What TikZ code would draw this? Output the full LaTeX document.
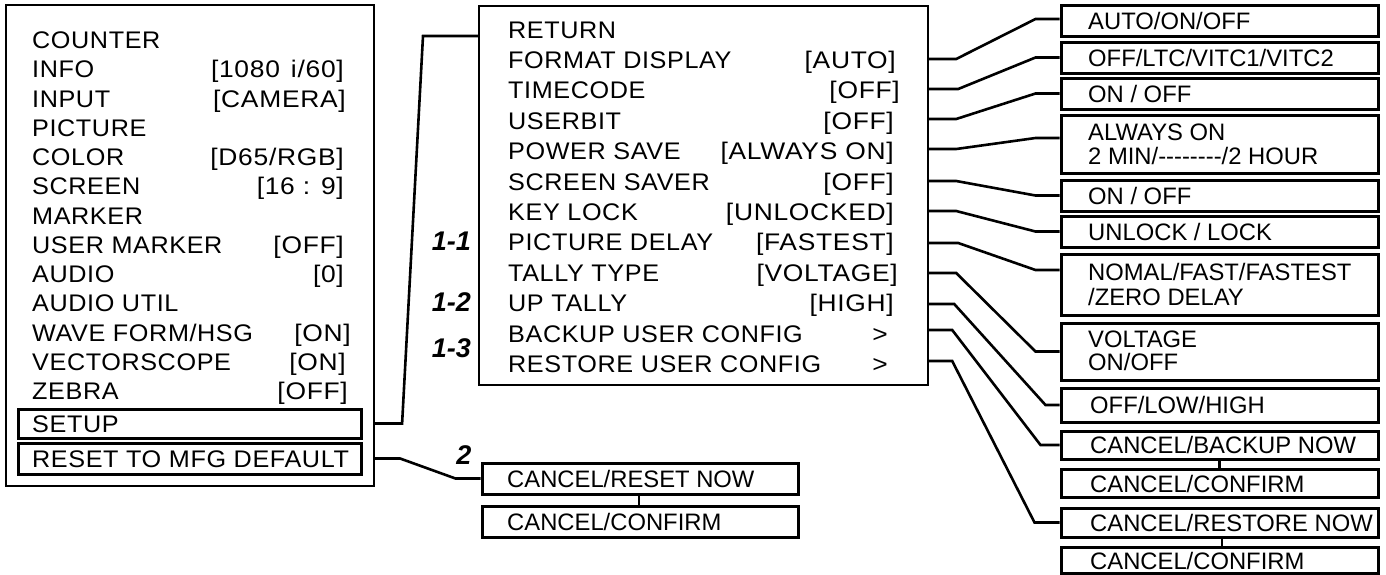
\documentclass[tikz,border=0pt]{standalone}
\usepackage{fontspec}
\setmainfont{Liberation Sans}
\newfontfamily\menufont{Liberation Sans}[FakeStretch=1.05, LetterSpace=2.5]
\newfontfamily\valfont{Liberation Sans}[FakeStretch=1.1, LetterSpace=3]
\tikzset{
  menu/.style={font=\menufont\fontsize{24}{28}\selectfont, inner sep=0pt, text height=17.2pt, text depth=0pt},
  mleft/.style={menu, anchor=west},
  mright/.style={menu, font=\valfont\fontsize{24}{28}\selectfont, anchor=east},
  opt/.style={font=\fontsize{23.8}{24}\selectfont, inner sep=0pt, text height=17pt, text depth=0pt, anchor=west},
  obox/.style={draw, line width=3pt, minimum width=317pt, inner sep=0pt},
  cbox/.style={draw, line width=3pt, minimum width=316pt, inner sep=0pt},
  ibox/.style={draw, line width=3pt, minimum width=343pt, inner sep=0pt},
  frame/.style={draw, line width=2.4pt, inner sep=0pt},
  lbl/.style={font=\bfseries\itshape\fontsize{27}{30}\selectfont, inner sep=0pt, text height=19.5pt, text depth=0pt},
  conn/.style={line width=2.6pt, line join=miter}
}
\begin{document}
\begin{tikzpicture}[x=1pt, y=-1pt]
\useasboundingbox (0,0) rectangle (1386,574);
\fill[white] (0,0) rectangle (1386,574);

% ---------- left menu ----------
\node[frame, line width=2.2pt, minimum width=368pt, minimum height=481pt] (lbox) at (190,245.5) {};
\node[mleft] (l0) at (32,40) {COUNTER};
\node[mleft] (l1) at (32,69.25) {INFO};
\node[mright] (lv1) at (344,69.25) {[1080\hspace{3pt} i/60]};
\node[mleft] (l2) at (32,98.5) {INPUT};
\node[mright] (lv2) at (346,98.5) {[CAMERA]};
\node[mleft] (l3) at (32,127.75) {PICTURE};
\node[mleft] (l4) at (32,157) {COLOR};
\node[mright] (lv4) at (344,157) {[D65/RGB]};
\node[mleft] (l5) at (32,186.25) {SCREEN};
\node[mright] (lv5) at (344,186.25) {[16 : 9]};
\node[mleft] (l6) at (32,215.5) {MARKER};
\node[mleft] (l7) at (32,244.75) {USER MARKER};
\node[mright] (lv7) at (344,244.75) {[OFF]};
\node[mleft] (l8) at (32,274) {AUDIO};
\node[mright] (lv8) at (344,274) {[0]};
\node[mleft] (l9) at (32,303.25) {AUDIO UTIL};
\node[mleft] (l10) at (32,332.5) {WAVE FORM/HSG};
\node[mright] (lv10) at (351,332.5) {[ON]};
\node[mleft] (l11) at (32,361.75) {VECTORSCOPE};
\node[mright] (lv11) at (346,361.75) {[ON]};
\node[mleft] (l12) at (32,391) {ZEBRA};
\node[mright] (lv12) at (348,391) {[OFF]};
\node[ibox, minimum height=29pt] (setup) at (189.5,423.5) {};
\node[mleft] (lsetup) at (32,424) {SETUP};
\node[ibox, minimum height=31pt] (reset) at (189.5,458.5) {};
\node[mleft] (lreset) at (32,458.5) {RESET TO MFG DEFAULT};

% ---------- middle menu ----------
\node[frame, minimum width=449pt, minimum height=379pt] (mbox) at (703.5,195.5) {};
\node[mleft] (m0) at (508,29.5) {RETURN};
\node[mleft] (m1) at (508,59.9) {FORMAT DISPLAY};
\node[mright] (mv1) at (896,59.9) {[AUTO]};
\node[mleft] (m2) at (508,90.3) {TIMECODE};
\node[mright] (mv2) at (900,90.3) {[OFF]};
\node[mleft] (m3) at (508,120.7) {USERBIT};
\node[mright] (mv3) at (894,120.7) {[OFF]};
\node[mleft] (m4) at (508,151.1) {POWER SAVE};
\node[mright] (mv4) at (894,151.1) {[ALWAYS ON]};
\node[mleft] (m5) at (508,181.5) {SCREEN SAVER};
\node[mright] (mv5) at (894,181.5) {[OFF]};
\node[mleft] (m6) at (508,211.9) {KEY LOCK};
\node[mright] (mv6) at (894,211.9) {[UNLOCKED]};
\node[mleft] (m7) at (508,242.3) {PICTURE DELAY};
\node[mright] (mv7) at (894,242.3) {[FASTEST]};
\node[mleft] (m8) at (508,272.7) {TALLY TYPE};
\node[mright] (mv8) at (898,272.7) {[VOLTAGE]};
\node[mleft] (m9) at (508,303.1) {UP TALLY};
\node[mright] (mv9) at (894,303.1) {[HIGH]};
\node[mleft] (m10) at (508,333.5) {BACKUP USER CONFIG};
\node[mright] (mv10) at (888,333.5) {>};
\node[mleft] (m11) at (508,363.9) {RESTORE USER CONFIG};
\node[mright] (mv11) at (888,363.9) {>};

% labels
\node[lbl, anchor=east] (n11) at (471,241) {1-1};
\node[lbl, anchor=east] (n12) at (471,302) {1-2};
\node[lbl, anchor=east] (n13) at (471,348) {1-3};
\node[lbl] (n2) at (464,455) {2};

% ---------- option boxes ----------
\node[obox, minimum height=31pt] (r1) at (1219.5,20.5) {};
\node[opt] (t1) at (1088,20.5) {AUTO/ON/OFF};
\node[obox, minimum height=31pt] (r2) at (1219.5,57.5) {};
\node[opt] (t2) at (1088,57.5) {OFF/LTC/VITC1/VITC2};
\node[obox, minimum height=31pt] (r3) at (1219.5,93.5) {};
\node[opt] (t3) at (1088,93.5) {ON / OFF};
\node[obox, minimum height=58pt] (r4) at (1219.5,144) {};
\node[opt] (t4a) at (1088,131.5) {ALWAYS ON};
\node[opt] (t4b) at (1088,155.5) {2 MIN/-{}-{}-{}-{}-{}-{}-{}-/2 HOUR};
\node[obox, minimum height=31pt] (r5) at (1219.5,195.5) {};
\node[opt] (t5) at (1088,195.5) {ON / OFF};
\node[obox, minimum height=31pt] (r6) at (1219.5,231.5) {};
\node[opt] (t6) at (1088,231.5) {UNLOCK / LOCK};
\node[obox, minimum height=61pt] (r7) at (1219.5,284.5) {};
\node[opt] (t7a) at (1088,271.5) {NOMAL/FAST/FASTEST};
\node[opt] (t7b) at (1088,296.5) {/ZERO DELAY};
\node[obox, minimum height=57pt] (r8) at (1219.5,351.5) {};
\node[opt] (t8a) at (1088,339) {VOLTAGE};
\node[opt] (t8b) at (1088,362) {ON/OFF};
\node[obox, minimum height=34pt] (r9) at (1219.5,405) {};
\node[opt] (t9) at (1090,405) {OFF/LOW/HIGH};
\node[obox, minimum height=28pt] (r10) at (1219.5,445) {};
\node[opt] (t10) at (1090,445) {CANCEL/BACKUP NOW};
\node[obox, minimum height=28pt] (r11) at (1219.5,483) {};
\node[opt] (t11) at (1090,484) {CANCEL/CONFIRM};
\node[obox, minimum height=29pt] (r12) at (1219.5,522.5) {};
\node[opt] (t12) at (1090,522.5) {CANCEL/RESTORE NOW};
\node[obox, minimum height=26pt] (r13) at (1219.5,560) {};
\node[opt] (t13) at (1090,561) {CANCEL/CONFIRM};

\node[cbox, minimum height=31pt] (c1) at (640,478.5) {};
\node[opt] (tc1) at (507,478.5) {CANCEL/RESET NOW};
\node[cbox, minimum height=31pt] (c2) at (640,521.5) {};
\node[opt] (tc2) at (507,522) {CANCEL/CONFIRM};

% ---------- connectors ----------
\draw[conn] (lbox.east |- setup) -- ++(27,0) -- (423,36) -- (mbox.west |- 0,36);
\draw[conn] (lbox.east |- reset) -- ++(25,0) -- ([xshift=-25pt]c1.west) -- (c1.west);
\draw[conn] ([xshift=-1pt]c1.south) -- ([xshift=-1pt]c2.north);
\draw[conn] (r10.south) -- (r11.north);
\draw[conn] ([xshift=2.5pt]r12.south) -- ([xshift=2.5pt]r12.south |- r13.north);

\draw[conn] (mbox.east |- 0,59)  -- ++(27,0) -- ([xshift=-24pt,yshift=1.5pt]r1.west) -- ([yshift=1.5pt]r1.west);
\draw[conn] (mbox.east |- 0,89)  -- ++(29,0) -- ([xshift=-24pt]r2.west) -- (r2.west);
\draw[conn] (mbox.east |- 0,119) -- ++(27,0) -- ([xshift=-24pt]r3.west) -- (r3.west);
\draw[conn] (mbox.east |- 0,149) -- ++(27,0) -- ([xshift=-24pt,yshift=6pt]r4.west) -- ([yshift=6pt]r4.west);
\draw[conn] (mbox.east |- 0,181) -- ++(27,0) -- ([xshift=-24pt]r5.west) -- (r5.west);
\draw[conn] (mbox.east |- 0,211) -- ++(27,0) -- ([xshift=-24pt]r6.west) -- (r6.west);
\draw[conn] (mbox.east |- 0,243) -- ++(29,0) -- ([xshift=-24pt,yshift=14.5pt]r7.west) -- ([yshift=14.5pt]r7.west);
\draw[conn] (mbox.east |- 0,273) -- ++(27,0) -- ([xshift=-24pt]r8.west) -- (r8.west);
\draw[conn] (mbox.east |- 0,304) -- ++(25,0) -- ([xshift=-14pt]r9.west) -- (r9.west);
\draw[conn] (mbox.east |- 0,330) -- ++(23,0) -- ([xshift=-19pt]r10.west) -- (r10.west);
\draw[conn] (mbox.east |- 0,361) -- ++(23,0) -- ([xshift=-25pt]r12.west) -- (r12.west);
\end{tikzpicture}
\end{document}
